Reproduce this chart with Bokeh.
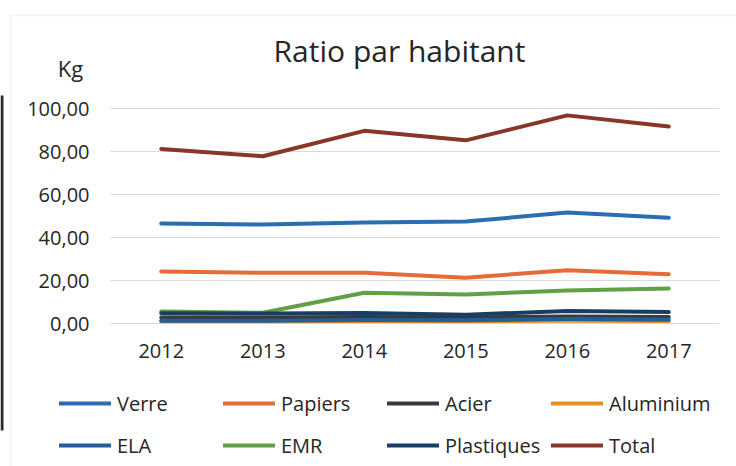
from bokeh.plotting import figure
from bokeh.models import (ColumnDataSource, Range1d, FixedTicker, BoxAnnotation,
                          CustomJSTickFormatter, Legend, LegendItem, Label)
from bokeh.embed import file_html
from bokeh.resources import INLINE

years = [2012, 2013, 2014, 2015, 2016, 2017]
verre = [46.5, 46.0, 47.0, 47.4, 51.6, 49.2]
papiers = [24.2, 23.6, 23.6, 21.3, 24.8, 22.9]
acier = [2.8, 2.8, 3.0, 2.8, 3.2, 3.0]
aluminium = [1.1, 1.1, 1.2, 1.1, 1.3, 1.2]
ela = [1.3, 1.3, 1.6, 1.5, 2.1, 1.7]
emr = [5.6, 5.0, 14.3, 13.5, 15.3, 16.3]
plastiques = [4.8, 4.6, 4.9, 4.1, 5.8, 5.3]
total = [81.2, 77.8, 89.6, 85.2, 96.8, 91.6]

series = [
    ("Verre", verre, "#2a6db0"),
    ("Papiers", papiers, "#e56c36"),
    ("Acier", acier, "#3a3a3a"),
    ("Aluminium", aluminium, "#e98f1d"),
    ("ELA", ela, "#215f9c"),
    ("EMR", emr, "#62a046"),
    ("Plastiques", plastiques, "#173f66"),
    ("Total", total, "#873628"),
]
y_ticks = [0, 20, 40, 60, 80, 100]

FONT = "Open Sans"
TXT = "#262626"
W, H = 736, 466

# plot-area geometry (pixels inside the canvas)
PX_L, PX_R, PY_TOP, PY_BOT = 110, 719, 108, 323
cat_w = (PX_R - PX_L) / len(years)
x0 = years[0] - 0.5 - PX_L / cat_w
x1 = years[-1] + 0.5 + (W - PX_R) / cat_w
k = (PY_BOT - PY_TOP) / 100.0
y0 = -(H - PY_BOT) / k
y1 = 100 + PY_TOP / k

src = ColumnDataSource(dict(year=years, Verre=verre, Papiers=papiers, Acier=acier,
                            Aluminium=aluminium, ELA=ela, EMR=emr,
                            Plastiques=plastiques, Total=total))

p = figure(width=W, height=H, x_range=Range1d(x0, x1), y_range=Range1d(y0, y1),
           output_backend="svg", toolbar_location=None, min_border=0)
p.outline_line_color = None
p.xgrid.grid_line_color = None
p.ygrid.grid_line_color = "#d9d9d9"
p.ygrid.grid_line_width = 1

p.yaxis.ticker = FixedTicker(ticks=y_ticks)
p.yaxis.formatter = CustomJSTickFormatter(code="return tick.toFixed(2).replace('.', ',');")
p.xaxis.ticker = FixedTicker(ticks=years)
p.xaxis.formatter = CustomJSTickFormatter(code="return String(Math.round(tick));")
p.yaxis.fixed_location = years[0] - 0.5
p.xaxis.fixed_location = 0
for ax in (p.xaxis, p.yaxis):
    ax.axis_line_color = None
    ax.major_tick_line_color = None
    ax.minor_tick_line_color = None
    ax.major_tick_out = 0
    ax.major_tick_in = 0
    ax.major_label_text_font = FONT
    ax.major_label_text_font_size = "20px"
    ax.major_label_text_color = TXT
p.yaxis.major_label_standoff = 21
p.xaxis.major_label_standoff = 20

try:
    p.ygrid.cross_bounds = (years[0] - 0.5, years[-1] + 0.5)
except Exception:
    p.add_layout(BoxAnnotation(right=years[0] - 0.5, fill_color="white", fill_alpha=1,
                               line_color=None, level="underlay"))

# faint frame of the scanned chart and dark edge at the left
p.add_layout(BoxAnnotation(left=10, right=W + 5, top=H - 15, bottom=-5,
                           left_units="screen", right_units="screen",
                           top_units="screen", bottom_units="screen",
                           fill_alpha=0, line_color="#d6d6d6", line_width=1.5,
                           level="underlay"))
p.add_layout(BoxAnnotation(left=0, right=3, top=H - 95, bottom=H - 430,
                           left_units="screen", right_units="screen",
                           top_units="screen", bottom_units="screen",
                           fill_color="#2a2a2a", fill_alpha=1, line_color=None,
                           level="underlay"))

items = []
for name, vals, color in series:
    r = p.line("year", name, source=src, line_color=color, line_width=4,
               line_join="round", line_cap="round")
    items.append(LegendItem(label=name, renderers=[r]))

legend = Legend(items=items, ncols=4, location=(59, 2), orientation="horizontal",
                glyph_width=52, glyph_height=38, label_height=38, label_width=102,
                label_standoff=6, spacing=4, padding=0, margin=0,
                border_line_color=None, background_fill_alpha=0,
                label_text_font=FONT, label_text_font_size="20px",
                label_text_color=TXT)
p.add_layout(legend, "center")

p.add_layout(Label(x=399, y=H - 50, x_units="screen", y_units="screen",
                   text="Ratio par habitant", text_align="center", text_baseline="middle",
                   text_font=FONT, text_font_size="30px", text_color=TXT))
p.add_layout(Label(x=70, y=H - 67, x_units="screen", y_units="screen",
                   text="Kg", text_align="center", text_baseline="middle",
                   text_font=FONT, text_font_size="22px", text_color=TXT))

open("out.html", "w").write(file_html(p, INLINE))
